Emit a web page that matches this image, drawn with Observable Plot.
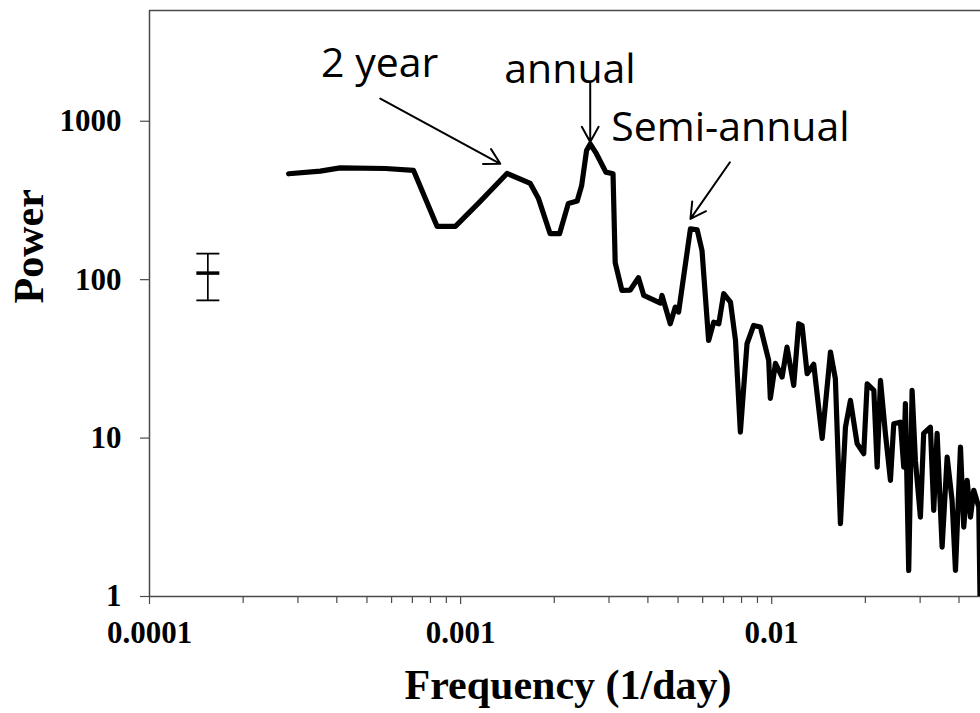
<!DOCTYPE html>
<html>
<head>
<meta charset="utf-8">
<script src="https://cdn.jsdelivr.net/npm/d3@7"></script>
<script src="https://cdn.jsdelivr.net/npm/@observablehq/plot@0.6"></script>
<style>
  html, body { margin: 0; padding: 0; background: #ffffff; }
  #chart svg { display: block; }
</style>
</head>
<body>
<div id="chart"></div>
<script>
// ---- Data ----
const frequency = [
  0.000280, 0.000354, 0.000410, 0.000573, 0.000706, 0.000840, 0.000962, 0.00114,
  0.00141, 0.001675, 0.00178, 0.00194, 0.00208, 0.00222, 0.00237, 0.00245,
  0.00254, 0.00261, 0.00273, 0.00293, 0.00309, 0.00314, 0.00330, 0.00351,
  0.00373, 0.00388, 0.00439, 0.00444, 0.00472, 0.00490, 0.00502, 0.00548,
  0.00576, 0.00597, 0.00627, 0.00651, 0.00676, 0.00701, 0.00737, 0.00765,
  0.00793, 0.00833, 0.00875, 0.00920, 0.00978, 0.00990, 0.01028, 0.01080,
  0.01120, 0.01177, 0.01221, 0.01252, 0.01300, 0.01365, 0.01453, 0.01545,
  0.01602, 0.01663, 0.01726, 0.01791, 0.01882, 0.01976, 0.02027, 0.02130,
  0.02183, 0.02237, 0.02320, 0.02408, 0.02468, 0.02593, 0.02657, 0.02690,
  0.02757, 0.02827, 0.02897, 0.03006, 0.03080, 0.03237, 0.03318, 0.03402,
  0.03530, 0.03664, 0.03800, 0.03897, 0.04044, 0.04144, 0.04249, 0.04354,
  0.04462, 0.04630, 0.04680
];
const power = [
  466, 484, 508, 503, 489, 217, 217, 303,
  468, 405, 325, 195, 195, 303, 314, 393,
  653, 718, 626, 477, 466, 128, 85.5, 86,
  103, 79.5, 71.1, 79.5, 52.7, 67.1, 62.4, 209.5,
  206.5, 152.8, 41.3, 53.9, 52.7, 81.5, 72.1, 41.3,
  10.9, 39.4, 51.4, 50.2, 30.9, 17.8, 29.6, 24.3,
  37.5, 21.5, 52.7, 51.4, 25.5, 29.2, 9.96, 34.9,
  23.7, 2.88, 11.7, 17.3, 9.22, 7.97, 22.0, 20.0,
  6.56, 23.1, 10.7, 5.41, 12.3, 12.6, 6.56, 16.5,
  1.46, 20.0, 7.23, 3.17, 10.7, 11.7, 3.50, 10.7,
  2.05, 7.59, 4.05, 1.46, 8.77, 2.74, 5.41, 3.17,
  4.68, 3.67, 0.8
];

// error bar drawn at the left of the plot
const errorBarX = [0.000154];
const errorBarLow = [74];
const errorBarMid = [110];
const errorBarHigh = [146];

// annotations
const annotationLabels = ["2 year", "annual", "Semi-annual"];
const annotationX = [0.000356, 0.001382, 0.00305];
const annotationY = [1914, 1754, 755];
const arrowFromX = [0.000552, 0.00261, 0.00734];
const arrowFromY = [1391, 1729, 551];
const arrowToX = [0.001342, 0.00261, 0.00548];
const arrowToY = [539, 740, 242];

// axes
const xTickValues = [0.0001, 0.001, 0.01];
const xTickLabels = ["0.0001", "0.001", "0.01"];
const xMinorTicks = [0.0002, 0.0003, 0.0004, 0.0005, 0.0006, 0.0007, 0.0008, 0.0009,
                     0.002, 0.003, 0.004, 0.005, 0.006, 0.007, 0.008, 0.009,
                     0.02, 0.03, 0.04];
const yTickValues = [1, 10, 100, 1000];
const yTickLabels = ["1", "10", "100", "1000"];
const xDomain = [0.0001, 0.0469];
const yDomain = [1, 5000];
const xTitle = "Frequency (1/day)";
const yTitle = "Power";

// ---- Tables built from the arrays ----
const series = frequency.map((f, i) => ({f, p: power[i]}));
const errorBar = errorBarX.map((x, i) => ({x, low: errorBarLow[i], mid: errorBarMid[i], high: errorBarHigh[i]}));
const annotations = annotationLabels.map((label, i) => ({label, x: annotationX[i], y: annotationY[i]}));
const arrows = arrowFromX.map((x1, i) => ({x1, y1: arrowFromY[i], x2: arrowToX[i], y2: arrowToY[i]}));

// horizontal cap symbol for the error bar
const capSymbol = {
  draw(context, size) {
    const r = Math.sqrt(size / Math.PI);
    context.moveTo(-r, 0);
    context.lineTo(r, 0);
  }
};

const axisColor = "#4a4a4a";
const serif = "'Liberation Serif', 'Times New Roman', serif";
const sans = "'Open Sans', 'Liberation Sans', sans-serif";

const chart = Plot.plot({
  width: 980,
  height: 713,
  marginLeft: 149,
  marginRight: 0,
  marginTop: 10,
  marginBottom: 117,
  style: {fontFamily: serif, fontSize: "31px", fontWeight: "bold", color: "black", background: "white"},
  x: {type: "log", domain: xDomain},
  y: {type: "log", domain: yDomain},
  marks: [
    // frame lines
    Plot.ruleY([yDomain[0]], {stroke: axisColor, strokeWidth: 1.5}),
    Plot.ruleY([yDomain[1]], {stroke: axisColor, strokeWidth: 1.5}),
    Plot.ruleX([xDomain[0]], {stroke: axisColor, strokeWidth: 1.5}),
    // axes
    Plot.axisX({ticks: xMinorTicks, tickFormat: () => "", tickSize: 7, stroke: axisColor, strokeWidth: 1.2, label: null}),
    Plot.axisX({ticks: xTickValues, tickFormat: d => xTickLabels[xTickValues.indexOf(d)], tickSize: 8, tickPadding: 16,
                stroke: axisColor, strokeWidth: 1.2, fill: "black", label: null}),
    Plot.axisY({ticks: yTickValues, tickFormat: d => yTickLabels[yTickValues.indexOf(d)], tickSize: 9, tickPadding: 19,
                stroke: axisColor, strokeWidth: 1.2, fill: "black", label: null}),
    // axis titles
    Plot.text([xTitle], {text: d => d, frameAnchor: "bottom", lineAnchor: "bottom", dx: 3, dy: 102,
                         fontSize: 42, fontWeight: "bold", fontFamily: serif, fill: "black"}),
    Plot.text([yTitle], {text: d => d, frameAnchor: "left", lineAnchor: "bottom", rotate: -90, dx: -107,
                         fontSize: 42, fontWeight: "bold", fontFamily: serif, fill: "black"}),
    // error bar
    Plot.ruleX(errorBar, {x: "x", y1: "low", y2: "high", stroke: "black", strokeWidth: 1.7}),
    Plot.dot(errorBar, {x: "x", y: "low", symbol: capSymbol, r: 11.5, stroke: "black", strokeWidth: 1.8, fill: "none"}),
    Plot.dot(errorBar, {x: "x", y: "high", symbol: capSymbol, r: 11.5, stroke: "black", strokeWidth: 1.8, fill: "none"}),
    Plot.dot(errorBar, {x: "x", y: "mid", symbol: capSymbol, r: 11.5, stroke: "black", strokeWidth: 3.5, fill: "none"}),
    // spectrum
    Plot.line(series, {x: "f", y: "p", stroke: "black", strokeWidth: 5.2, strokeLinejoin: "round", clip: true}),
    // annotations
    Plot.arrow(arrows, {x1: "x1", y1: "y1", x2: "x2", y2: "y2", stroke: "black", strokeWidth: 2, headLength: 13, headAngle: 58}),
    Plot.text(annotations, {x: "x", y: "y", text: "label", textAnchor: "start", lineAnchor: "bottom",
                            fontFamily: sans, fontSize: 41, fontWeight: "normal", fill: "black"})
  ]
});

document.getElementById("chart").appendChild(chart);
</script>
</body>
</html>
